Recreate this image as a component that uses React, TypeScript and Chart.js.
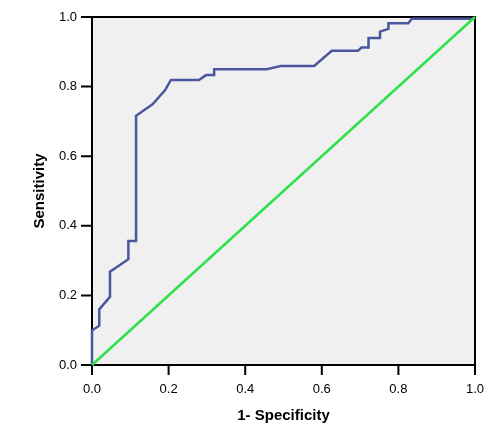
import React, { useEffect, useRef } from "react";
import { Chart, registerables } from "chart.js";

Chart.register(...registerables);

const rocX = [0, 0, 0.019, 0.019, 0.047, 0.047, 0.095, 0.095, 0.115, 0.115, 0.158, 0.191, 0.206, 0.279, 0.298, 0.319, 0.319, 0.456, 0.493, 0.58, 0.626, 0.694, 0.704, 0.722, 0.722, 0.752, 0.752, 0.774, 0.774, 0.826, 0.835, 1];
const rocY = [0, 0.099, 0.113, 0.16, 0.196, 0.268, 0.304, 0.356, 0.356, 0.716, 0.749, 0.79, 0.819, 0.819, 0.833, 0.833, 0.85, 0.85, 0.859, 0.859, 0.903, 0.903, 0.912, 0.912, 0.94, 0.94, 0.958, 0.966, 0.982, 0.982, 0.995, 0.995];
const refX = [0, 1];
const refY = [0, 1];
const tickValues = [0, 0.2, 0.4, 0.6, 0.8, 1.0];

const FONT = "'Liberation Sans', Arial, sans-serif";

const framePlugin = {
  id: "frame",
  beforeDraw(chart: any) {
    const { ctx, chartArea: a } = chart;
    ctx.save();
    ctx.fillStyle = "#f0f0f0";
    ctx.fillRect(a.left, a.top, a.right - a.left, a.bottom - a.top);
    ctx.restore();
  },
  beforeDatasetsDraw(chart: any) {
    const { ctx, chartArea: a } = chart;
    ctx.save();
    ctx.strokeStyle = "#000";
    ctx.lineWidth = 2;
    ctx.strokeRect(a.left, a.top, a.right - a.left, a.bottom - a.top);
    const xs = chart.scales.x;
    const ys = chart.scales.y;
    ctx.beginPath();
    tickValues.forEach((v) => {
      const px = xs.getPixelForValue(v);
      ctx.moveTo(px, a.bottom);
      ctx.lineTo(px, a.bottom + 10);
      const py = ys.getPixelForValue(v);
      ctx.moveTo(a.left, py);
      ctx.lineTo(a.left - 11, py);
    });
    ctx.stroke();
    ctx.restore();
  },
};

export default function App() {
  const ref = useRef<HTMLCanvasElement>(null);
  useEffect(() => {
    document.body.style.margin = "0";
    const toPts = (xs: number[], ys: number[]) => xs.map((x, i) => ({ x, y: ys[i] }));
    const gridCfg = {
      display: true,
      drawOnChartArea: false,
      drawTicks: true,
      tickLength: 10,
      tickColor: "rgba(0,0,0,0)",
    };
    const chart = new Chart(ref.current!, {
      type: "scatter",
      data: {
        datasets: [
          {
            data: toPts(refX, refY),
            showLine: true,
            borderColor: "#2ee04a",
            borderWidth: 2.5,
            pointRadius: 0,
            fill: false,
            clip: false,
          },
          {
            data: toPts(rocX, rocY),
            showLine: true,
            borderColor: "#4a569e",
            borderWidth: 2.5,
            pointRadius: 0,
            fill: false,
            tension: 0,
            clip: false,
          },
        ],
      },
      options: {
        animation: false,
        responsive: false,
        maintainAspectRatio: false,
        layout: { padding: { top: 17, right: 25, left: 0, bottom: 0 } },
        plugins: { legend: { display: false }, tooltip: { enabled: false } },
        scales: {
          x: {
            type: "linear",
            min: 0,
            max: 1,
            afterFit(scale: any) {
              scale.height = 81;
            },
            afterBuildTicks(scale: any) {
              scale.ticks = tickValues.map((v) => ({ value: v }));
            },
            border: { display: false },
            grid: gridCfg as any,
            ticks: {
              color: "#000",
              padding: 7,
              font: { family: FONT, size: 13 },
              callback: (v: any) => Number(v).toFixed(1),
              maxRotation: 0,
            },
            title: {
              display: true,
              text: "1- Specificity",
              color: "#000",
              font: { family: FONT, size: 15, weight: "bold" },
              padding: { top: 0, bottom: 21 },
            },
          },
          y: {
            type: "linear",
            min: 0,
            max: 1,
            afterFit(scale: any) {
              scale.width = 92;
            },
            afterBuildTicks(scale: any) {
              scale.ticks = tickValues.map((v) => ({ value: v }));
            },
            border: { display: false },
            grid: gridCfg as any,
            ticks: {
              color: "#000",
              padding: 5,
              font: { family: FONT, size: 13 },
              callback: (v: any) => Number(v).toFixed(1),
            },
            title: {
              display: true,
              text: "Sensitivity",
              color: "#000",
              font: { family: FONT, size: 15, weight: "bold" },
              padding: { top: 31, bottom: 0 },
            },
          },
        },
      },
      plugins: [framePlugin],
    });
    return () => chart.destroy();
  }, []);
  return (
    <div style={{ position: "absolute", left: 0, top: 0 }}>
      <canvas ref={ref} width={500} height={446} style={{ display: "block" }} />
    </div>
  );
}
